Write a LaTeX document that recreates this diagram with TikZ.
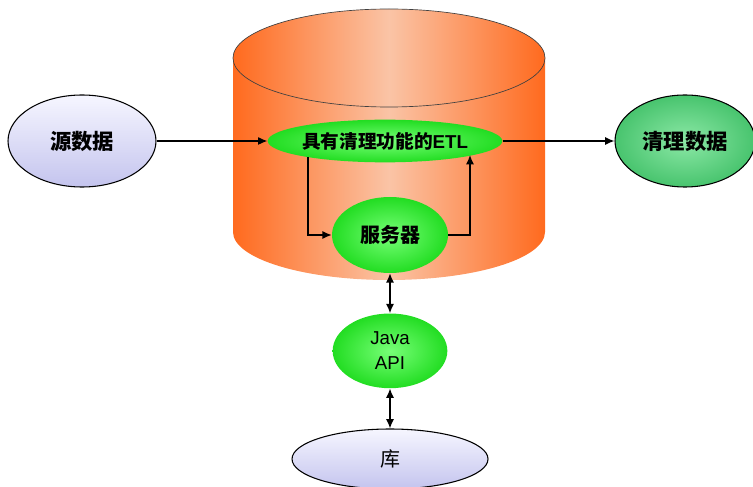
\documentclass[tikz,border=0pt]{standalone}
\usepackage{fontspec}
\setmainfont{Noto Sans CJK SC}
\newfontfamily\arialfont{Liberation Sans}
\usetikzlibrary{positioning,calc,arrows.meta,shapes.geometric}

\definecolor{cylEdge}{HTML}{FF6A1E}
\definecolor{cylMid}{HTML}{FAC4A6}
\definecolor{lavTop}{HTML}{F6F6FF}
\definecolor{lavBot}{HTML}{C4C4EE}
\definecolor{grnIn}{HTML}{77FF77}
\definecolor{grnOut}{HTML}{22DD22}
\definecolor{clnIn}{HTML}{8CE8A6}
\definecolor{clnOut}{HTML}{48C46E}

\tikzset{
  store/.style={ellipse, draw=black, line width=0.8pt, inner sep=0pt,
    top color=lavTop, bottom color=lavBot},
  proc/.style={ellipse, inner sep=0pt, inner color=grnIn, outer color=grnOut},
  arr/.style={-{Latex[length=7pt,width=6pt]}, line width=1pt},
  dbl/.style={{Latex[length=7pt,width=6pt]}-{Latex[length=7pt,width=6pt]}, line width=1pt}
}

\begin{document}
\begin{tikzpicture}[x=0.75pt,y=0.75pt,node distance=30pt,
  font=\bfseries\fontsize{16}{18}\selectfont]
    \useasboundingbox (0,0) rectangle (753,486);
    % cylinder
    \shade[left color=cylEdge, right color=cylEdge, middle color=cylMid]
      (233,428) -- (233,254) arc[start angle=180, end angle=360, x radius=156, y radius=48]
      -- (545,428) arc[start angle=0, end angle=180, x radius=156, y radius=49] -- cycle;
    \draw[black!75, line width=0.5pt] (389,428) ellipse[x radius=156, y radius=49];
    %
    \node[store, minimum width=111pt, minimum height=69pt] (src) at (82,345) {源数据};
    \node[proc, minimum width=172pt, minimum height=32pt, font=\bfseries\fontsize{14}{16}\selectfont]
      (etl) at (385,345) {具有清理功能的{\arialfont ETL}};
    \node[ellipse, draw=black, line width=0.8pt, inner sep=0pt, inner color=clnIn, outer color=clnOut,
      minimum width=105pt, minimum height=69pt] (clean) at (685,345) {清理数据};
    \node[proc, minimum width=87pt, minimum height=57pt, font=\bfseries\fontsize{15}{17}\selectfont]
      (srv) at (390,251) {服务器};
    \node[proc, minimum width=86pt, minimum height=56pt, align=center,
      font=\arialfont\fontsize{14}{19}\selectfont] (java) [below=of srv] {Java\\API};
    \node[store, minimum width=147pt, minimum height=45pt, font=\fontsize{15}{17}\selectfont]
      (lib) [below=of java] {库};
    \coordinate (down) at ($(etl.center)+(-77,-16)$);
    \coordinate (up) at ($(etl.center)+(85,-14)$);
    %
    \draw[arr] (src) -- (etl);
    \draw[arr] (etl) -- (clean);
    \draw[arr] (down) |- (srv);
    \draw[arr] (srv) -| (up);
    \draw[dbl] (srv) -- (java);
    \draw[dbl] (java) -- (lib);
\end{tikzpicture}
\end{document}
